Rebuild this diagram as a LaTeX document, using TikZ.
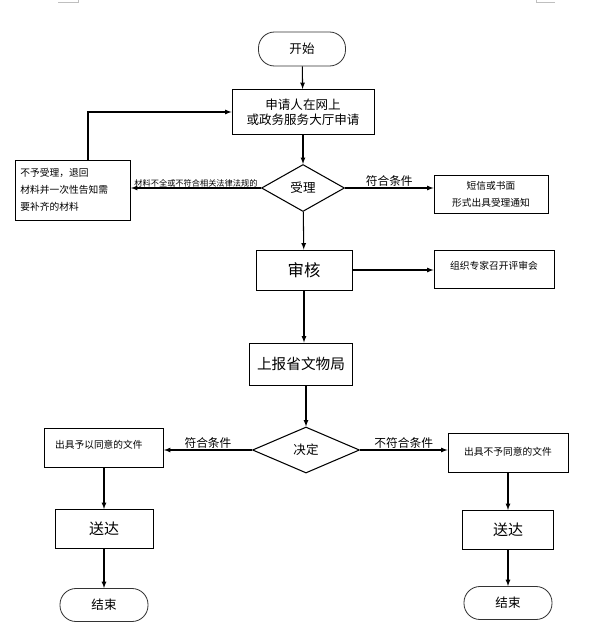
\documentclass[tikz,border=0pt]{standalone}
\usepackage{fontspec}
\setmainfont{Noto Sans CJK SC}
\usetikzlibrary{shapes.geometric}

\begin{document}
\begin{tikzpicture} [x=0.03cm, y=-0.03cm, ->, >=latex, line width=0.9pt]
  \tikzstyle{box}=[draw, rectangle, line width=0.8pt, inner sep=0pt, text centered]
  \tikzstyle{term}=[draw, rectangle, rounded corners=0.48cm, line width=0.7pt, draw=black!80, inner sep=0pt]
  \tikzstyle{choice}=[draw, diamond, line width=0.9pt, inner sep=0pt]
  \tikzstyle{big}=[font=\fontsize{10.7}{12.8}\selectfont]
  \tikzstyle{small}=[font=\fontsize{8.3}{14.5}\selectfont]
  \tikzstyle{annot}=[font=\fontsize{10}{12}\selectfont, inner sep=1pt]

  \useasboundingbox (0,0) rectangle (593,640);
  \draw[-, line width=0.4pt, black!25] (58,2) -- (78,2) -- (78,0);
  \draw[-, line width=0.4pt, black!25] (555,2.5) -- (536,2.5) -- (536,0);

  % main column
  \node[term, big, minimum width=2.61cm, minimum height=1.02cm] (start) at (302,49) {开始};
  \node[box, big, align=center, minimum width=4.26cm, minimum height=1.35cm] (apply) at (303,112) {申请人在网上\\或政务服务大厅申请};
  \node[choice, big, minimum width=2.49cm, minimum height=1.41cm] (accept) at (303,188) {受理};
  \node[box, font=\fontsize{14}{16}\selectfont, minimum width=2.88cm, minimum height=1.2cm] (review) at (304,270) {审核};
  \node[box, font=\fontsize{12.5}{14}\selectfont, minimum width=3.09cm, minimum height=1.26cm] (report) at (301,364) {上报省文物局};
  \node[choice, big, minimum width=3.21cm, minimum height=1.38cm] (decide) at (306,450) {决定};

  % side boxes
  \node[box, small, align=left, text width=3.15cm, minimum width=3.45cm, minimum height=1.8cm] (reject) at (73,190) {不予受理，退回\\材料并一次性告知需\\要补齐的材料};
  \node[box, small, align=center, minimum width=3.42cm, minimum height=1.14cm] (notify) at (491,194) {短信或书面\\形式出具受理通知};
  \node[box, minimum width=3.6cm, minimum height=1.14cm] (expert) at (494,269) {};
  \node[small, anchor=north] (experttxt) at ([yshift=-0.22cm]expert.north) {组织专家召开评审会};

  % left branch
  \node[box, minimum width=3.57cm, minimum height=1.17cm] (agree) at (104,448) {};
  \node[small, anchor=north west] (agreetxt) at ([xshift=0.2cm, yshift=-0.22cm]agree.north west) {出具予以同意的文件};
  \node[box, font=\fontsize{12.8}{14}\selectfont, minimum width=2.94cm, minimum height=1.17cm] (sendL) at (104,529) {送达};
  \node[term, big, minimum width=2.64cm, minimum height=0.99cm] (endL) at (104,605) {结束};

  % right branch
  \node[box, small, minimum width=3.6cm, minimum height=1.17cm] (disagree) at (508,453) {\raisebox{0.12cm}{出具不予同意的文件}};
  \node[box, font=\fontsize{12.8}{14}\selectfont, minimum width=2.73cm, minimum height=1.17cm] (sendR) at (508,530) {送达};
  \node[term, big, minimum width=2.64cm, minimum height=0.99cm] (endR) at (508,603) {结束};

  % connectors
  \draw (start) -- (apply);
  \draw (apply) -- (accept);
  \draw (accept) -- (review);
  \draw (review.south) -- (review.south |- report.north);
  \draw (report.south -| decide.north) -- (decide);
  \draw (accept.west) -- (accept.west -| reject.east)
    node[midway, above, font=\fontsize{7}{8}\selectfont, inner sep=0.5pt] {材料不全或不符合相关法律法规的};
  \draw ([xshift=0.45cm]reject.north) |- (apply.west);
  \draw (accept.east) -- (accept.east -| notify.west) node[midway, above, annot] {符合条件};
  \draw (review.east) -- (review.east -| expert.west);
  \draw (decide.west) -- (decide.west -| agree.east) node[midway, above, annot] {符合条件};
  \draw (decide.east) -- (decide.east -| disagree.west) node[midway, above, annot] {不符合条件};
  \draw (agree) -- (sendL);
  \draw (sendL) -- (endL);
  \draw (disagree) -- (sendR);
  \draw (sendR) -- (endR);

\end{tikzpicture}
\end{document}
